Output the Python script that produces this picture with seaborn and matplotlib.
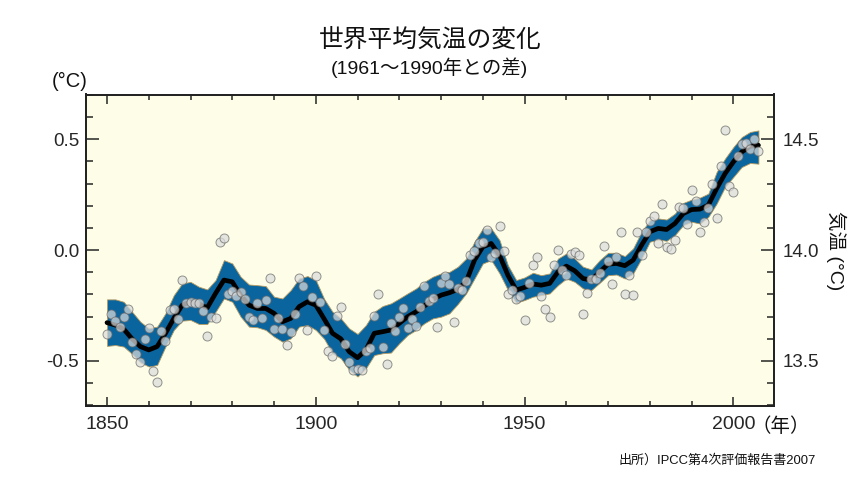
# Global mean temperature change, IPCC AR4 style chart
import pandas as pd
import matplotlib.pyplot as plt
from matplotlib.ticker import MultipleLocator
import seaborn as sns

sns.set_style("white")
plt.rcParams["font.family"] = ["Liberation Sans", "Noto Sans CJK JP", "DejaVu Sans"]

# annual anomalies 1850-2006
first_year = 1850
annual = [
    -0.378, -0.29, -0.32, -0.345, -0.30, -0.267, -0.416, -0.468, -0.506, -0.40,
    -0.353, -0.545, -0.593, -0.363, -0.41, -0.27, -0.264, -0.312, -0.135, -0.24,
    -0.236, -0.24, -0.237, -0.273, -0.387, -0.303, -0.306, 0.038, 0.057, -0.198,
    -0.186, -0.206, -0.188, -0.219, -0.302, -0.315, -0.237, -0.306, -0.225, -0.126,
    -0.354, -0.308, -0.357, -0.43, -0.368, -0.29, -0.126, -0.162, -0.362, -0.212,
    -0.116, -0.233, -0.36, -0.453, -0.477, -0.297, -0.257, -0.422, -0.506, -0.54,
    -0.536, -0.542, -0.453, -0.44, -0.296, -0.20, -0.437, -0.513, -0.33, -0.363,
    -0.30, -0.263, -0.35, -0.31, -0.34, -0.255, -0.16, -0.23, -0.215, -0.347,
    -0.15, -0.117, -0.153, -0.324, -0.173, -0.18, -0.137, -0.022, -0.003, 0.033,
    0.038, 0.09, -0.03, -0.015, 0.11, -0.005, -0.197, -0.18, -0.222, -0.206,
    -0.315, -0.149, -0.065, -0.03, -0.207, -0.266, -0.30, -0.065, 0.0, -0.09,
    -0.113, -0.018, -0.01, -0.022, -0.29, -0.195, -0.132, -0.128, -0.105, 0.02,
    -0.048, -0.153, -0.03, 0.084, -0.20, -0.11, -0.204, 0.083, -0.024, 0.08,
    0.13, 0.156, 0.03, 0.21, 0.015, 0.006, 0.045, 0.194, 0.188, 0.12,
    0.273, 0.22, 0.08, 0.125, 0.188, 0.30, 0.147, 0.38, 0.54, 0.288,
    0.263, 0.425, 0.48, 0.483, 0.458, 0.503, 0.447,
]

# smoothed curve and its uncertainty band, one value every two years
smooth = [
    -0.327, -0.338, -0.356, -0.40, -0.435, -0.45, -0.435, -0.375, -0.308, -0.248,
    -0.233, -0.243, -0.26, -0.195, -0.135, -0.143, -0.203, -0.248, -0.263, -0.263,
    -0.285, -0.323, -0.308, -0.255, -0.233, -0.248, -0.31, -0.375, -0.40, -0.458,
    -0.485, -0.45, -0.375, -0.368, -0.36, -0.33, -0.30, -0.278, -0.252, -0.222,
    -0.203, -0.192, -0.177, -0.143, -0.045, 0.015, 0.03, -0.023, -0.113, -0.18,
    -0.168, -0.153, -0.158, -0.15, -0.098, -0.072, -0.093, -0.128, -0.135, -0.098,
    -0.063, -0.06, -0.07, -0.045, 0.022, 0.083, 0.098, 0.093, 0.12, 0.165,
    0.183, 0.185, 0.203, 0.278, 0.345, 0.398, 0.443, 0.468, 0.473,
]
band_top = [
    -0.222, -0.222, -0.233, -0.278, -0.323, -0.353, -0.345, -0.285, -0.203, -0.15,
    -0.143, -0.165, -0.177, -0.135, -0.045, -0.06, -0.12, -0.155, -0.158, -0.162,
    -0.21, -0.218, -0.18, -0.128, -0.117, -0.135, -0.22, -0.278, -0.308, -0.353,
    -0.378, -0.338, -0.278, -0.252, -0.24, -0.218, -0.195, -0.173, -0.143, -0.12,
    -0.105, -0.098, -0.075, -0.038, 0.038, 0.098, 0.098, 0.045, -0.068, -0.135,
    -0.123, -0.102, -0.113, -0.105, -0.038, -0.015, -0.038, -0.075, -0.087, -0.045,
    -0.012, -0.012, -0.027, 0.008, 0.083, 0.135, 0.143, 0.138, 0.165, 0.213,
    0.228, 0.237, 0.255, 0.353, 0.413, 0.465, 0.51, 0.533, 0.54,
]
band_bottom = [
    -0.432, -0.428, -0.435, -0.468, -0.506, -0.525, -0.518, -0.435, -0.36, -0.318,
    -0.315, -0.333, -0.333, -0.278, -0.218, -0.233, -0.30, -0.345, -0.348, -0.36,
    -0.39, -0.413, -0.398, -0.345, -0.338, -0.36, -0.40, -0.465, -0.488, -0.54,
    -0.57, -0.533, -0.473, -0.465, -0.462, -0.42, -0.383, -0.36, -0.33, -0.308,
    -0.30, -0.285, -0.243, -0.195, -0.128, -0.06, -0.045, -0.105, -0.18, -0.237,
    -0.225, -0.21, -0.203, -0.195, -0.158, -0.128, -0.143, -0.173, -0.18, -0.147,
    -0.113, -0.11, -0.128, -0.105, -0.038, 0.038, 0.048, 0.042, 0.068, 0.113,
    0.128, 0.12, 0.15, 0.21, 0.285, 0.33, 0.375, 0.393, 0.39,
]

x_ticks = [1850, 1900, 1950, 2000]
left_ticks = [-0.5, 0.0, 0.5]
right_ticks = [13.5, 14.0, 14.5]

df_annual = pd.DataFrame({"year": range(first_year, first_year + len(annual)), "temp": annual})
df_smooth = pd.DataFrame({
    "year": range(first_year, first_year + 2 * len(smooth), 2),
    "temp": smooth,
    "top": band_top,
    "bottom": band_bottom,
})

fig = plt.figure(figsize=(8.6, 5), dpi=100)
ax = fig.add_axes([86 / 860, 1 - 406 / 500, 688.3 / 860, 311.5 / 500])
ax.set_facecolor("#FEFEE8")

# band, curve, then the yearly points
ax.fill_between(df_smooth["year"], df_smooth["bottom"], df_smooth["top"],
                color="#0A659F", edgecolor="#B89A60", linewidth=0.6, zorder=2)
sns.lineplot(data=df_smooth, x="year", y="temp", color="black", linewidth=3.4,
             errorbar=None, ax=ax, zorder=3, solid_joinstyle="round")
sns.scatterplot(data=df_annual, x="year", y="temp", s=42, color="#DCDCDC", alpha=0.72,
                edgecolor="#6A6A6A", linewidth=0.7, ax=ax, zorder=4)

ax.set_xlim(1844.97, 2009.8)
ax.set_ylim(-0.703, 0.702)
ax.set_xlabel("")
ax.set_ylabel("")
ax.set_xticks(x_ticks)
ax.set_yticks(left_ticks)
ax.set_yticklabels(["-0.5", "0.0", "0.5"])
ax.xaxis.set_minor_locator(MultipleLocator(10))
ax.yaxis.set_minor_locator(MultipleLocator(0.1))
ax.tick_params(axis="x", which="major", direction="in", length=6.5, width=1.1,
               top=True, bottom=True, labelsize=14, pad=7)
ax.tick_params(axis="x", which="minor", direction="in", length=3.6, width=1.1,
               top=True, bottom=True)
ax.tick_params(axis="y", which="major", direction="in", length=9.5, width=1.1,
               left=True, right=False, labelsize=13.5, pad=5)
ax.tick_params(axis="y", which="minor", direction="in", length=4.7, width=1.1,
               left=True, right=False)

# right axis in absolute temperature
ax2 = ax.twinx()
ax2.set_ylim(14.0 - 0.703, 14.0 + 0.702)
ax2.set_yticks(right_ticks)
ax2.set_yticklabels(["13.5", "14.0", "14.5"])
ax2.yaxis.set_minor_locator(MultipleLocator(0.1))
ax2.tick_params(axis="y", which="major", direction="in", length=9.5, width=1.1,
                right=True, left=False, labelsize=13.5, pad=6)
ax2.tick_params(axis="y", which="minor", direction="in", length=4.7, width=1.1,
                right=True, left=False)
ax2.grid(False)

for axis in (ax, ax2):
    for spine in axis.spines.values():
        spine.set_visible(True)
        spine.set_color("#222222")
        spine.set_linewidth(1.3)

# texts placed by pixel position in the 860x500 figure
def put_text(px, py, label, **kwargs):
    fig.text(px / 860, 1 - py / 500, label, ha=kwargs.pop("ha", "center"),
             va=kwargs.pop("va", "center"), color="#111111", **kwargs)

put_text(430, 40, "世界平均気温の変化", fontsize=17.8)
put_text(429, 68, "(1961～1990年との差)", fontsize=14)
put_text(69.5, 81, "(°C)", fontsize=14.5)
put_text(781, 427, "（年）", fontsize=14)
put_text(836, 251, "気温 (°C)", fontsize=14, rotation=-90)
put_text(816, 460, "出所）IPCC第4次評価報告書2007", fontsize=9.4, ha="right")

plt.savefig("out.png", dpi=100)
plt.close()
